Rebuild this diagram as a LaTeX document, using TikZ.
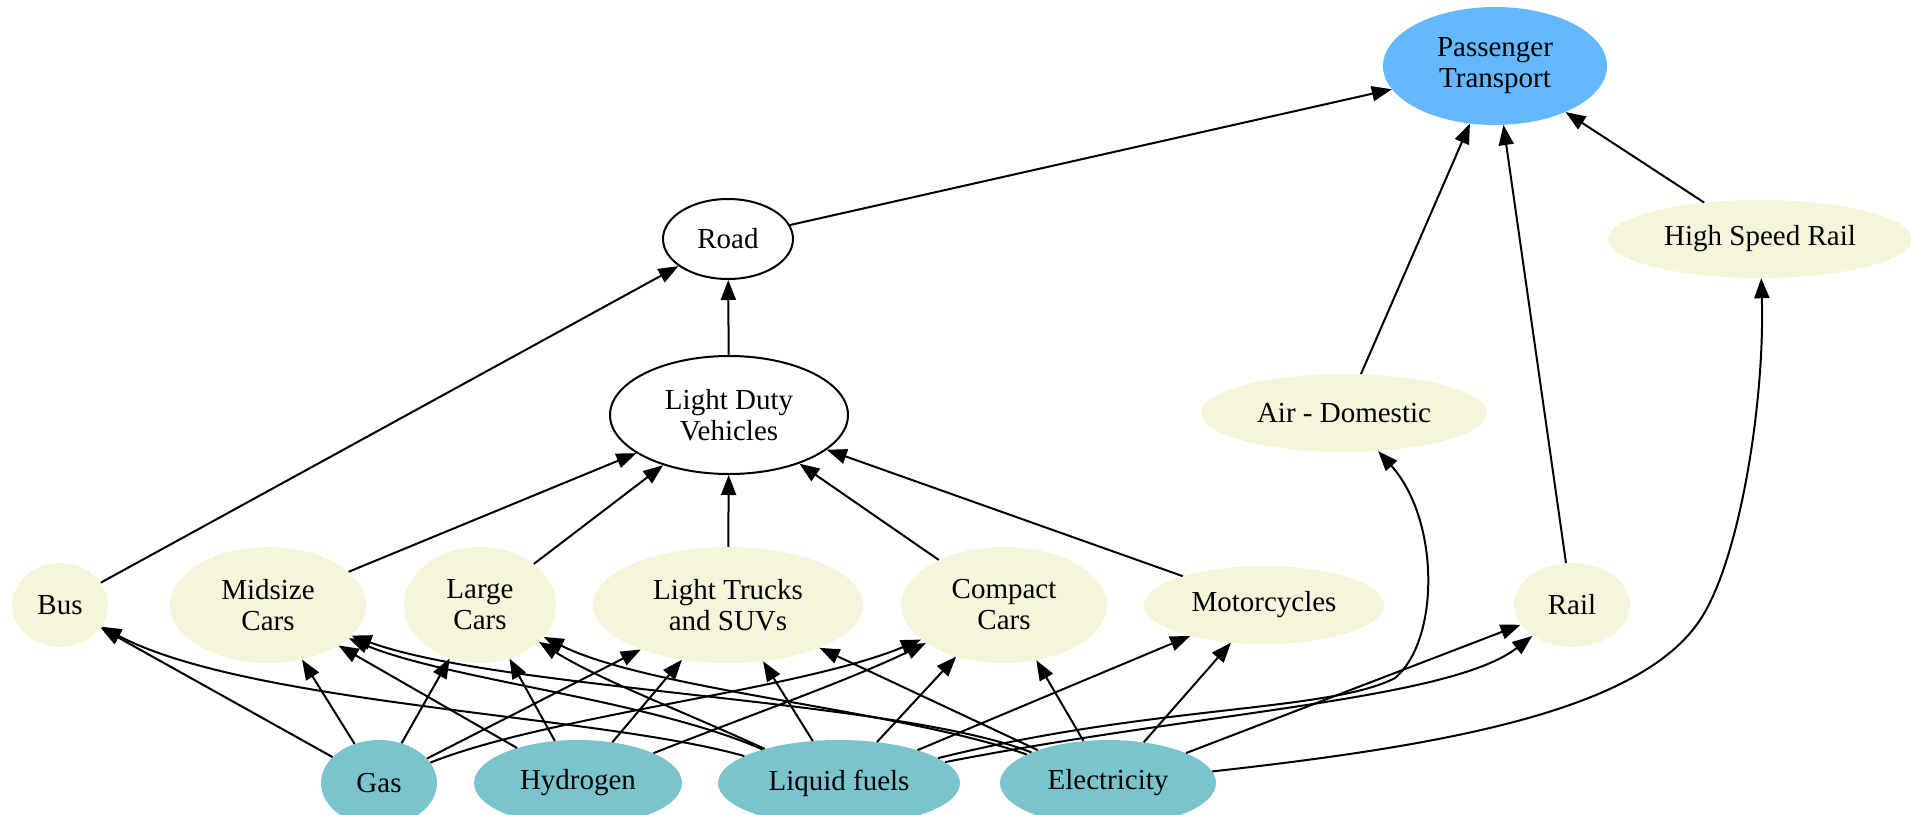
\documentclass[tikz,border=0pt]{standalone}
\usepackage{fontspec}
\setmainfont{Liberation Serif}
\usetikzlibrary{shapes.geometric,arrows.meta}
\definecolor{vehc}{HTML}{F5F5DC}
\definecolor{fuelc}{HTML}{7AC5CD}
\definecolor{ptc}{HTML}{63B8FF}
\begin{document}
\begin{tikzpicture}[x=1pt,y=-1pt,
 every node/.style={ellipse, inner sep=0pt, align=center, font=\fontsize{29}{31}\selectfont},
 vnode/.style={fill=vehc},
 fnode/.style={fill=fuelc},
 wnode/.style={draw, line width=2pt, fill=white},
 ptnode/.style={fill=ptc},
 link/.style={line width=2pt, -{Triangle[length=20pt,width=15pt]}}]
\clip (0,0) rectangle (1911,814);
\useasboundingbox (0,0) rectangle (1911,814);
% top
\node[ptnode, minimum width=224, minimum height=118] (pt) at (1495,66) {Passenger\\Transport};
\node[wnode, minimum width=130, minimum height=80] (road) at (728,239) {Road};
\node[wnode, minimum width=238, minimum height=118] (ldv) at (729,415) {Light Duty\\Vehicles};
\node[vnode, minimum width=286, minimum height=78] (air) at (1344,413) {Air - Domestic};
\node[vnode, minimum width=304, minimum height=78] (hsr) at (1760,239) {High Speed Rail};
% vehicles
\node[vnode, minimum width=96, minimum height=84] (bus) at (60,605) {Bus};
\node[vnode, minimum width=196, minimum height=116] (mid) at (268,605) {Midsize\\Cars};
\node[vnode, minimum width=152, minimum height=116] (large) at (480,605) {Large\\Cars};
\node[vnode, minimum width=270, minimum height=116] (lt) at (728,605) {Light Trucks\\and SUVs};
\node[vnode, minimum width=206, minimum height=116] (comp) at (1004,605) {Compact\\Cars};
\node[vnode, minimum width=240, minimum height=78] (moto) at (1264,605) {Motorcycles};
\node[vnode, minimum width=116, minimum height=84] (rail) at (1572,605) {Rail};
% fuels
\node[fnode, minimum width=116, minimum height=86] (gas) at (379,783) {Gas};
\node[fnode, minimum width=208, minimum height=86] (h2) at (578,783) {Hydrogen};
\node[fnode, minimum width=242, minimum height=86] (lf) at (839,783) {Liquid fuels};
\node[fnode, minimum width=216, minimum height=86] (el) at (1108,783) {Electricity};
% upper edges
\draw[link] (road) -- (pt);
\draw[link] (air) -- (pt);
\draw[link] (rail) -- (pt);
\draw[link] (hsr) -- (pt);
\draw[link] (ldv) -- (road);
\draw[link] (bus) -- (road);
\draw[link] (mid) -- (ldv);
\draw[link] (large) -- (ldv);
\draw[link] (lt) -- (ldv);
\draw[link] (comp) -- (ldv);
\draw[link] (moto) -- (ldv);
% gas
\draw[link] (gas) -- (bus);
\draw[link] (gas) -- (mid);
\draw[link] (gas) -- (large);
\draw[link] (gas) -- (lt);
\draw[link] (gas) .. controls (550,715) and (800,690) .. (comp);
% hydrogen
\draw[link] (h2) -- (mid);
\draw[link] (h2) -- (large);
\draw[link] (h2) -- (lt);
\draw[link] (h2) .. controls (750,715) and (850,680) .. (comp);
% liquid fuels
\draw[link] (lf) .. controls (600,715) and (250,705) .. (bus);
\draw[link] (lf) .. controls (650,700) and (450,680) .. (mid);
\draw[link] (lf) .. controls (680,710) and (600,680) .. (large);
\draw[link] (lf) -- (lt);
\draw[link] (lf) -- (comp);
\draw[link] (lf) -- (moto);
\draw[link] (lf) .. controls (1200,712) and (1450,700) .. (rail);
\draw[link] (lf) .. controls (1150,705) and (1330,712) .. (1395,678) .. controls (1440,640) and (1440,520) .. (air);
% electricity
\draw[link] (el) .. controls (900,700) and (500,690) .. (mid);
\draw[link] (el) .. controls (900,710) and (650,690) .. (large);
\draw[link] (el) -- (lt);
\draw[link] (el) -- (comp);
\draw[link] (el) -- (moto);
\draw[link] (el) -- (rail);
\draw[link] (el) .. controls (1450,745) and (1640,710) .. (1700,620) .. controls (1740,560) and (1765,400) .. (hsr);
\end{tikzpicture}
\end{document}
